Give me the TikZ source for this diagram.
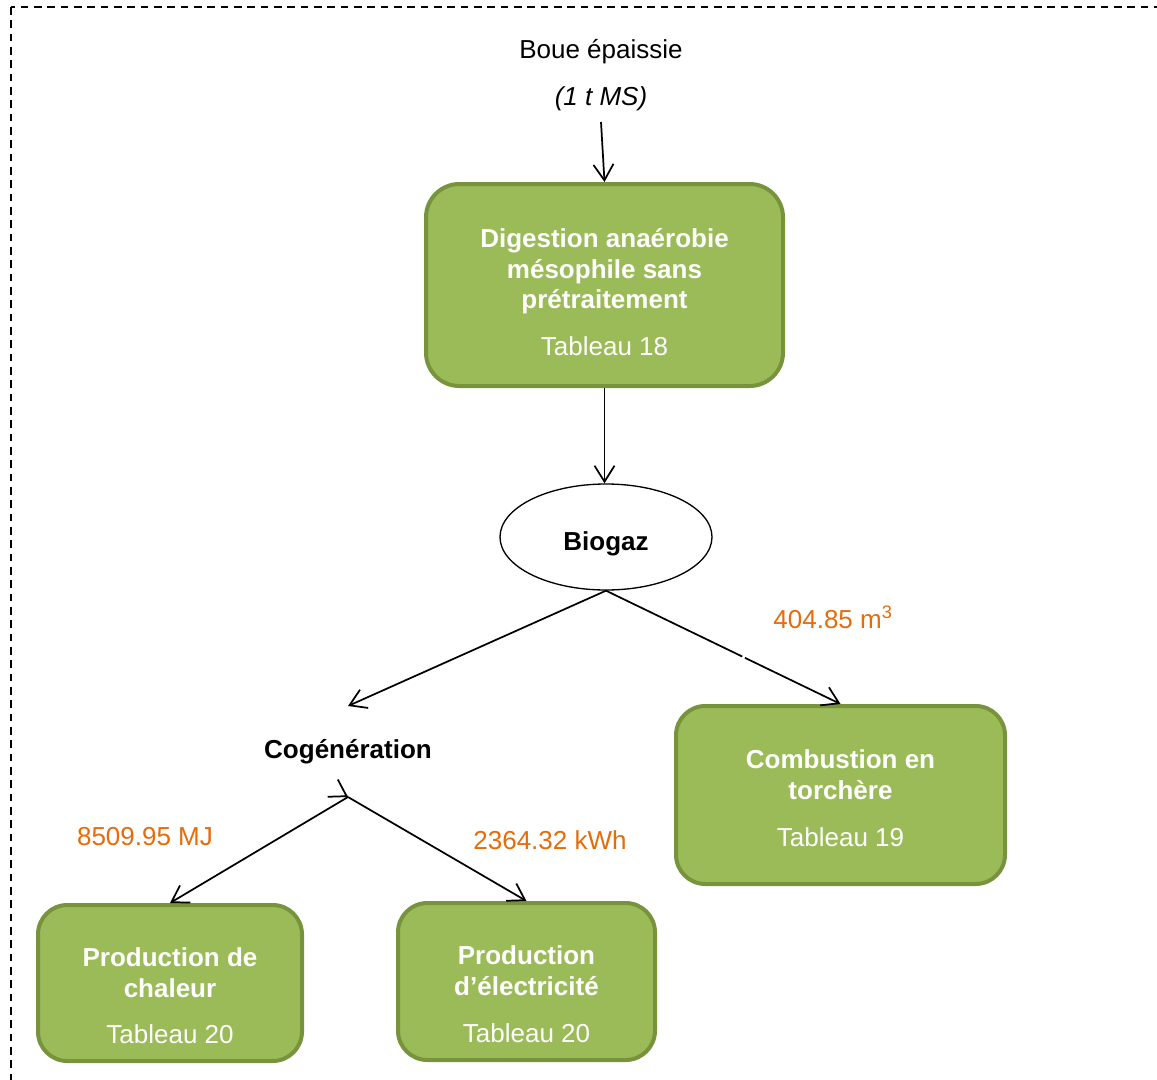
\documentclass[tikz,border=0pt]{standalone}
\usepackage{fontspec}
\setmainfont{Liberation Sans}
\usetikzlibrary{arrows.meta,shapes.geometric,calc}

\definecolor{boxfill}{HTML}{9BBB59}
\definecolor{boxline}{HTML}{77933C}
\definecolor{qty}{HTML}{E46C0A}
\newcommand{\bigtxt}{\fontsize{19.5}{22.9}\selectfont}
% invisible strut that pushes a text block downwards inside its box
\newcommand{\topgap}[1]{\rule{0pt}{#1}}

\begin{document}
\begin{tikzpicture}[x=0.75pt,y=-0.75pt,
  stage/.style={draw=boxline, line width=3pt, fill=boxfill, rounded corners=22pt,
    text=white, align=center, font=\bigtxt, inner sep=0pt},
  plain/.style={font=\bigtxt, inner sep=0pt},
  qtylabel/.style={plain, text=qty},
  flow/.style={line width=1.3pt, -{Straight Barb[length=12pt,width=15pt]}},
]
\clip (0,0) rectangle (1157,1079);

% dashed frame
\draw[line width=1.3pt, dash pattern=on 5.8pt off 4.2pt] (11,7) rectangle (1190,1110);

% input
\node[plain] (boue) at (601,52) {Boue épaissie};
\node[plain, font=\bigtxt\itshape] (ms) at (601,99) {(1 t MS)};
\coordinate (in1) at (601,122);

% process boxes
\node[stage, rounded corners=25pt, minimum width=267.75pt, minimum height=151.5pt] (dig) at (604.5,285)
  {\topgap{25pt}\bfseries Digestion anaérobie\\ \bfseries mésophile sans\\ \bfseries prétraitement\\[12.3pt] Tableau 18};

\node[draw, ellipse, line width=1pt, minimum width=159pt, minimum height=79.5pt,
  inner sep=0pt, font=\bigtxt\bfseries] (bio) at (606,537) {\topgap{24.7pt}Biogaz};

\node[plain, font=\bigtxt\bfseries] (cog) at (348,752) {Cogénération};
\coordinate (cogtip) at (348,706);
\coordinate (apex) at (348,797);

\node[stage, minimum width=246.75pt, minimum height=133.5pt] (comb) at (840.5,795)
  {\topgap{19pt}\bfseries Combustion en\\ \bfseries torchère\\[12.3pt] Tableau 19};

\node[stage, minimum width=198pt, minimum height=117pt] (chal) at (170,983)
  {\topgap{33.5pt}\bfseries Production de\\ \bfseries chaleur\\[12.3pt] Tableau 20};

\node[stage, minimum width=192.75pt, minimum height=117.75pt] (elec) at (526.5,981.5)
  {\topgap{33pt}\bfseries Production\\ \bfseries d’électricité\\[12.3pt] Tableau 20};

% quantities
\node[qtylabel] (q1) at (833,617) {404.85 m\textsuperscript{3}};
\node[qtylabel] (q2) at (145,837) {8509.95 MJ};
\node[qtylabel] (q3) at (550,840) {2364.32 kWh};

% flows
\draw[flow] (in1) -- (dig.north);
\draw[flow] (dig.south) -- (dig.south |- bio.north);
\draw[flow] (bio.south) -- (cogtip);
\draw[flow, dash pattern=on 113.5pt off 2.2pt on 400pt] (bio.south) -- (comb.north);
\draw[flow] (apex) -- (chal.north);
\draw[flow] (apex) -- (elec.north);
\draw[flow] ($(apex)!-0.5pt!(elec.north)$) -- (apex);
\end{tikzpicture}
\end{document}
